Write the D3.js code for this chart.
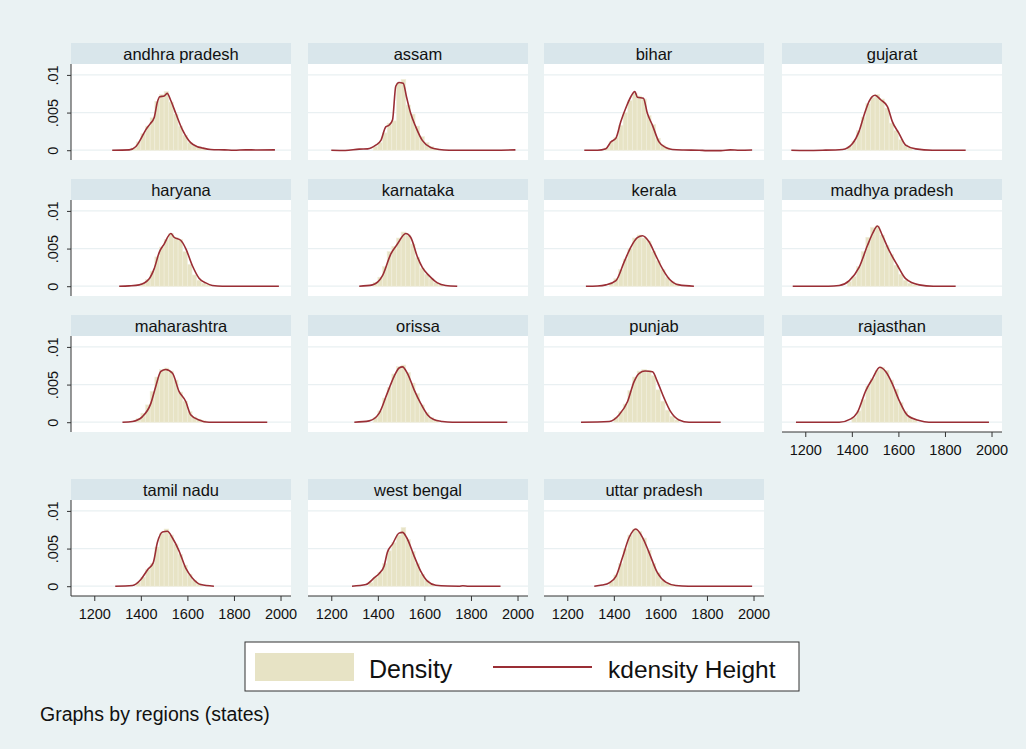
<!DOCTYPE html>
<html>
<head>
<meta charset="utf-8">
<script src="https://cdn.jsdelivr.net/npm/d3@7"></script>
<style>
  body { margin: 0; background: #eaf2f3; }
  svg { display: block; font-family: "Liberation Sans", Arial, sans-serif; }
</style>
</head>
<body>
<svg width="1026" height="749"></svg>
<script>
// states in panel order (Stata by() layout, 4 columns)
var states = ["andhra pradesh", "assam", "bihar", "gujarat",
              "haryana", "karnataka", "kerala", "madhya pradesh",
              "maharashtra", "orissa", "punjab", "rajasthan",
              "tamil nadu", "west bengal", "uttar pradesh"];

// kdensity curves: [height, density in thousandths]
var kdAndhra = [[1277,0],[1350,0.05],[1379,0.5],[1400,1.5],[1421,2.7],[1440,3.5],[1457,4.3],[1471,6.4],[1481,7.1],[1500,7.2],[1513,7.55],[1530,6.5],[1550,4.9],[1579,2.7],[1614,1.0],[1640,0.5],[1664,0.3],[1700,0.1],[1760,0.05],[1800,0],[1850,0.05],[1900,0.03],[1976,0.05]];
var kdAssam = [[1200,0],[1260,-0.03],[1320,0.15],[1356,0.18],[1391,0.67],[1413,1.3],[1434,3.1],[1449,3.35],[1463,4.0],[1477,8.5],[1491,9.0],[1509,8.9],[1523,7.1],[1541,4.9],[1563,3.1],[1591,1.3],[1627,0.36],[1663,0.1],[1706,0],[1800,0],[1900,0],[1991,0.05]];
var kdBihar = [[1273,0],[1330,0],[1366,0.2],[1387,1.1],[1409,1.6],[1430,3.8],[1454,5.8],[1473,7.1],[1490,7.8],[1501,7.05],[1527,6.9],[1544,4.9],[1566,3.3],[1594,1.1],[1623,0.36],[1651,0.1],[1700,0.03],[1766,0],[1800,-0.05],[1860,-0.05],[1900,0.05],[1940,0],[1994,0.03]];
var kdGujarat = [[1140,0],[1200,-0.03],[1274,0],[1360,0.1],[1403,0.9],[1431,2.5],[1453,4.7],[1474,6.5],[1500,7.3],[1524,6.7],[1553,5.8],[1574,3.8],[1603,2.2],[1631,0.67],[1674,0.18],[1746,0],[1889,0]];
var kdHaryana = [[1307,0],[1350,0.05],[1393,0.18],[1436,1.0],[1457,2.3],[1479,4.5],[1500,5.6],[1529,7.0],[1543,6.5],[1571,6.1],[1593,5.0],[1621,2.75],[1650,1.07],[1679,0.44],[1707,0.1],[1750,0],[1993,0]];
var kdKarnataka = [[1320,0],[1377,0.18],[1420,1.4],[1456,4.3],[1484,5.6],[1520,7.0],[1541,6.5],[1570,3.9],[1591,2.5],[1620,1.4],[1656,0.44],[1691,0.1],[1741,0]];
var kdKerala = [[1280,0],[1330,0.03],[1366,0.18],[1409,0.75],[1444,3.2],[1473,5.2],[1501,6.45],[1523,6.7],[1551,5.9],[1580,4.1],[1609,2.3],[1637,1.0],[1680,0.18],[1744,0]];
var kdMadhya = [[1146,0],[1300,0],[1346,0.1],[1389,0.75],[1431,2.5],[1467,5.4],[1489,7.0],[1510,8.0],[1531,6.75],[1560,4.75],[1596,2.75],[1631,1.0],[1689,0.18],[1750,0],[1846,0]];
var kdMaharashtra = [[1321,0],[1364,0.1],[1407,0.75],[1443,2.5],[1464,4.75],[1486,6.75],[1507,7.0],[1536,6.5],[1564,4.1],[1593,2.75],[1614,1.0],[1650,0.3],[1693,0],[1943,0]];
var kdOrissa = [[1299,0],[1363,0.18],[1406,1.2],[1441,3.9],[1470,6.1],[1491,7.2],[1506,7.35],[1527,6.5],[1556,4.3],[1584,2.5],[1613,1.0],[1640,0.35],[1677,0.1],[1720,0],[1956,0]];
var kdPunjab = [[1259,0],[1380,0.1],[1423,1.0],[1459,2.75],[1487,5.4],[1509,6.5],[1534,6.8],[1566,6.7],[1587,5.4],[1616,3.2],[1644,1.4],[1680,0.3],[1723,0],[1859,0]];
var kdRajasthan = [[1160,0],[1346,0],[1396,0.44],[1424,1.3],[1460,4.2],[1489,5.8],[1520,7.3],[1546,6.7],[1574,5.1],[1603,2.9],[1639,0.9],[1689,0.22],[1731,0],[1989,0]];
var kdTamil = [[1290,0],[1364,0.1],[1400,0.9],[1429,2.2],[1453,3.1],[1471,5.8],[1493,7.2],[1514,7.3],[1536,6.4],[1564,4.7],[1593,2.4],[1621,1.1],[1657,0.22],[1714,0]];
var kdWestBengal = [[1289,0],[1349,0.22],[1384,1.1],[1406,1.7],[1427,2.7],[1441,4.5],[1463,5.6],[1491,7.05],[1506,7.15],[1523,6.5],[1556,4.0],[1584,2.0],[1613,0.67],[1649,0.13],[1700,0.02],[1749,0],[1765,0.06],[1790,0],[1927,0]];
var kdUttar = [[1316,0],[1350,0.15],[1380,0.45],[1409,1.3],[1437,3.8],[1466,6.5],[1494,7.6],[1523,6.5],[1551,4.5],[1587,1.8],[1623,0.54],[1666,0.1],[1720,0],[1994,0]];

var kdensity = [kdAndhra, kdAssam, kdBihar, kdGujarat, kdHaryana, kdKarnataka, kdKerala, kdMadhya,
                kdMaharashtra, kdOrissa, kdPunjab, kdRajasthan, kdTamil, kdWestBengal, kdUttar];

// histogram: first bin start and bar heights (thousandths), bins 20 wide
var binWidth = 20;
var histStart = [1360, 1380, 1360, 1380, 1400, 1380, 1380, 1380, 1380, 1380, 1400, 1400, 1380, 1360, 1380];
var histAndhra = [0.3,1.1,2.2,3.2,4.3,6.5,7.4,7.8,6.4,4.8,3.2,2.0,1.0,0.6,0.3,0.2];
var histAssam = [0.5,1.0,2.3,3.6,3.9,8.9,9.4,6.0,4.8,3.2,1.8,1.0,0.5,0.2];
var histBihar = [0.3,1.2,1.7,3.3,5.0,6.6,7.6,7.2,6.8,4.6,3.4,1.6,0.7,0.3];
var histGujarat = [0.5,1.2,2.6,4.4,6.2,7.0,7.4,6.8,5.6,3.6,2.6,1.4,0.7,0.3];
var histHaryana = [0.4,0.9,2.0,3.9,5.2,6.2,7.0,6.5,6.2,4.6,2.9,1.5,0.8,0.4,0.2];
var histKarnataka = [0.5,1.2,2.6,4.6,5.3,6.4,7.2,6.8,5.6,3.8,2.4,1.6,1.0,0.5,0.2];
var histKerala = [0.4,1.0,2.2,3.6,5.0,6.4,6.8,6.4,6.0,4.6,3.4,2.2,1.2,0.6,0.3];
var histMadhya = [0.6,1.3,2.6,4.6,6.5,7.8,8.0,6.8,5.4,4.2,2.8,1.6,0.8,0.4,0.2];
var histMaharashtra = [0.5,1.2,2.3,4.1,6.0,7.0,7.2,6.8,5.6,4.0,2.8,1.4,0.7,0.4,0.2];
var histOrissa = [0.6,1.5,3.2,4.6,6.4,7.4,7.6,6.6,5.2,3.8,2.3,1.3,0.6,0.3];
var histPunjab = [0.6,1.4,2.4,4.2,6.0,6.8,7.0,6.9,6.2,4.3,2.8,1.6,0.8,0.3];
var histRajasthan = [0.6,1.5,3.0,4.8,5.8,6.9,7.3,6.9,5.6,4.4,2.6,1.4,0.7,0.3];
var histTamil = [0.5,1.2,2.2,3.0,5.2,7.0,7.6,6.8,5.6,4.2,2.8,1.6,0.8,0.3];
var histWestBengal = [0.5,1.2,1.8,3.0,4.7,5.8,6.8,7.8,6.2,4.6,3.0,1.6,0.8,0.3];
var histUttar = [0.6,1.5,3.0,5.0,6.8,7.6,7.3,6.4,4.8,3.0,1.8,0.8,0.4,0.2];

var hist = [histAndhra, histAssam, histBihar, histGujarat, histHaryana, histKarnataka, histKerala, histMadhya,
            histMaharashtra, histOrissa, histPunjab, histRajasthan, histTamil, histWestBengal, histUttar];

var xTicks = [1200, 1400, 1600, 1800, 2000];
var yTicks = [0, 5, 10];
var yTickLabels = [".0", ".005", ".01"];
yTickLabels[0] = "0";

var legendLabels = ["Density", "kdensity Height"];
var note = "Graphs by regions (states)";

var histColor = "#e7e3c5",
    lineColor = "#9a2e35",
    stripColor = "#d9e6eb",
    gridColor = "#e9f0f2";

var svg = d3.select("svg");

var colLeft = [71, 308, 544, 782],
    rowTop = [43, 179, 315, 479],
    panelW = 220,
    stripH = 21,
    plotH = 96;

var x = d3.scaleLinear().domain([1100, 2045]).range([0, panelW]);
var y = d3.scaleLinear().domain([-1.3, 11.45]).range([plotH, 0]);

var line = d3.line()
    .x(function(d) { return x(d[0]); })
    .y(function(d) { return y(d[1]); })
    .curve(d3.curveMonotoneX);

states.forEach(function(name, i) {
  var col = i % 4, row = Math.floor(i / 4);
  var g = svg.append("g")
      .attr("transform", "translate(" + colLeft[col] + "," + rowTop[row] + ")");

  // strip title
  g.append("rect")
      .attr("width", panelW).attr("height", stripH)
      .attr("fill", stripColor);
  g.append("text")
      .attr("x", panelW / 2).attr("y", 16.5)
      .attr("text-anchor", "middle")
      .attr("font-size", "16.5px")
      .attr("fill", "#111")
      .text(name);

  var p = g.append("g").attr("transform", "translate(0," + stripH + ")");
  p.append("rect")
      .attr("width", panelW).attr("height", plotH)
      .attr("fill", "#fff");

  p.selectAll("line.grid")
    .data(yTicks)
    .enter().append("line")
      .attr("class", "grid")
      .attr("x1", 0).attr("x2", panelW)
      .attr("y1", function(d) { return y(d); })
      .attr("y2", function(d) { return y(d); })
      .attr("stroke", gridColor)
      .attr("stroke-width", 1.3);

  p.selectAll("rect.bar")
    .data(hist[i])
    .enter().append("rect")
      .attr("class", "bar")
      .attr("x", function(d, k) { return x(histStart[i] + k * binWidth); })
      .attr("width", x(binWidth) - x(0))
      .attr("y", function(d) { return y(d); })
      .attr("height", function(d) { return y(0) - y(d); })
      .attr("fill", histColor)
      .attr("stroke", "#f1eedc")
      .attr("stroke-width", 0.6);

  p.append("path")
      .datum(kdensity[i])
      .attr("d", line)
      .attr("fill", "none")
      .attr("stroke", lineColor)
      .attr("stroke-width", 1.6)
      .attr("stroke-linejoin", "round");

  // y axis on first column
  if (col === 0) {
    var ya = p.append("g")
        .call(d3.axisLeft(y).tickValues(yTicks).tickSize(4)
              .tickFormat(function(d, k) { return yTickLabels[k]; }));
    ya.select(".domain").attr("d", "M0,0V" + plotH);
    ya.selectAll("text")
        .attr("transform", "rotate(-90)")
        .attr("x", 0).attr("y", -13).attr("dy", 0)
        .attr("text-anchor", "middle")
        .attr("font-size", "14.5px")
        .attr("font-family", "Liberation Sans, Arial, sans-serif")
        .attr("fill", "#111");
    ya.selectAll("path, line").attr("stroke", "#333");
  }

  // x axis where no panel sits below
  if (i + 4 >= states.length) {
    var xa = p.append("g")
        .attr("transform", "translate(0," + plotH + ")")
        .call(d3.axisBottom(x).tickValues(xTicks).tickSize(5).tickPadding(8)
              .tickFormat(d3.format("d")));
    xa.select(".domain").attr("d", "M0,0H" + panelW);
    xa.selectAll("text")
        .attr("font-size", "14.5px")
        .attr("font-family", "Liberation Sans, Arial, sans-serif")
        .attr("fill", "#111");
    xa.selectAll("path, line").attr("stroke", "#333");
  }
});

// legend
var lg = svg.append("g").attr("transform", "translate(245,642)");
lg.append("rect")
    .attr("width", 554).attr("height", 49)
    .attr("fill", "#fff")
    .attr("stroke", "#333")
    .attr("stroke-width", 1);
lg.append("rect")
    .attr("x", 10).attr("y", 11).attr("width", 99).attr("height", 28)
    .attr("fill", histColor);
lg.append("text")
    .attr("x", 124).attr("y", 36)
    .attr("font-size", "25px").attr("fill", "#111")
    .text(legendLabels[0]);
lg.append("line")
    .attr("x1", 248).attr("x2", 347)
    .attr("y1", 25).attr("y2", 25)
    .attr("stroke", lineColor).attr("stroke-width", 1.8);
lg.append("text")
    .attr("x", 363).attr("y", 36)
    .attr("font-size", "24.5px").attr("fill", "#111")
    .text(legendLabels[1]);

svg.append("text")
    .attr("x", 40).attr("y", 721)
    .attr("font-size", "19.5px").attr("fill", "#111")
    .text(note);
</script>
</body>
</html>
